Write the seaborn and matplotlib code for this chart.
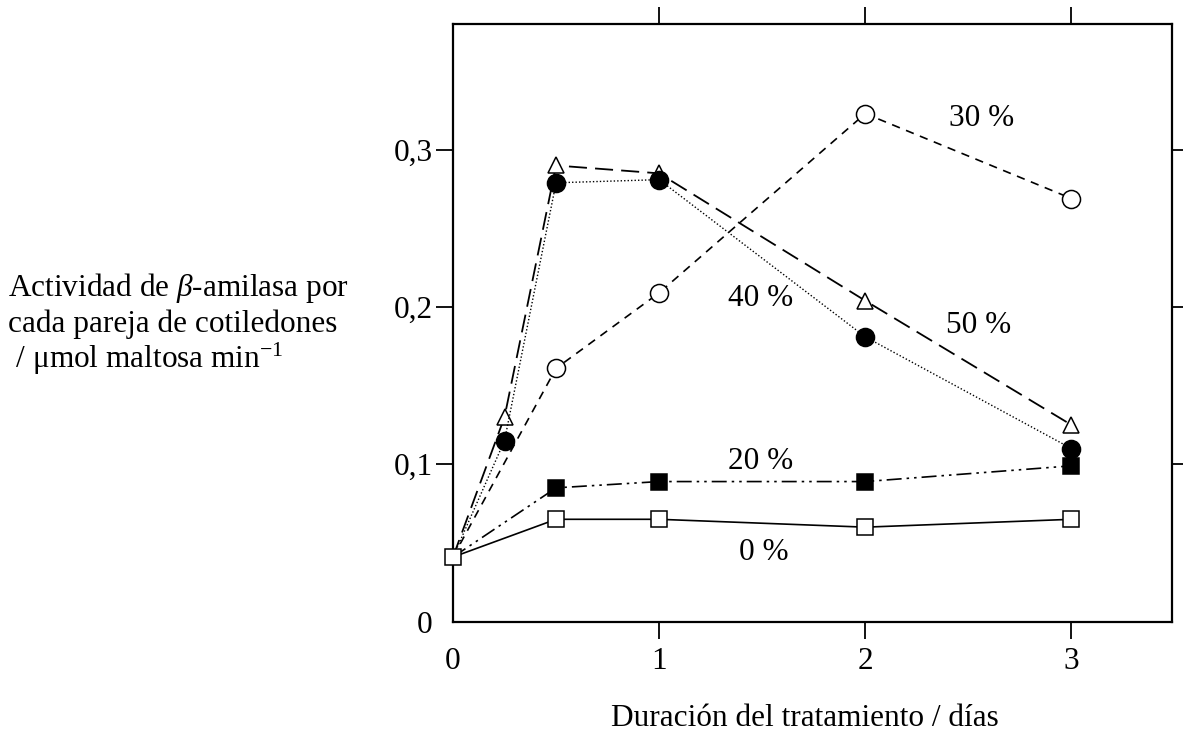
import numpy as np
import pandas as pd
import matplotlib
matplotlib.use("Agg")
import matplotlib.pyplot as plt
import seaborn as sns

# datos
dias_corto = [0, 0.5, 1, 2, 3]
dias_largo = [0, 0.25, 0.5, 1, 2, 3]

act_0 = [0.041, 0.065, 0.065, 0.060, 0.065]
act_20 = [0.041, 0.085, 0.089, 0.089, 0.099]
act_30 = [0.041, 0.161, 0.209, 0.323, 0.269]
act_40 = [0.041, 0.115, 0.279, 0.281, 0.181, 0.110]
act_50 = [0.041, 0.130, 0.290, 0.285, 0.204, 0.125]

etiquetas = ["0 %", "20 %", "30 %", "40 %", "50 %"]
pos_etiquetas = [(1.51, 0.044), (1.49, 0.1015), (2.565, 0.320), (1.49, 0.2055), (2.55, 0.1885)]

xticks = [0, 1, 2, 3]
xtick_labels = ["0", "1", "2", "3"]
yticks = [0, 0.1, 0.2, 0.3]
ytick_labels = ["0", "0,1", "0,2", "0,3"]

sns.set_style("ticks")
plt.rcParams["font.family"] = ["Liberation Serif", "DejaVu Serif"]
plt.rcParams["mathtext.fontset"] = "custom"
plt.rcParams["mathtext.rm"] = "Liberation Serif"
plt.rcParams["mathtext.it"] = "Liberation Serif:italic"
for k in ["text.color", "axes.edgecolor", "xtick.color", "ytick.color", "axes.labelcolor"]:
    plt.rcParams[k] = "black"

fs = 22.5

fig = plt.figure(figsize=(11.83, 7.33), dpi=100)
ax = fig.add_axes([0.3829, 0.1521, 0.6082, 0.8152])

series = [
    (dias_largo, act_50, "^", 12, "white", (0, (10, 4.5)), 1.3),
    (dias_largo, act_40, "o", 13, "black", (0, (1, 1.5)), 1.0),
    (dias_corto, act_30, "o", 13, "white", (0, (5, 4)), 1.2),
    (dias_corto, act_20, "s", 11, "black", (0, (9, 3, 1.5, 3, 1.5, 3)), 1.2),
]
for x, y, mk, ms, fc, ls, lw in series:
    df = pd.DataFrame({"dias": x, "act": y})
    sns.lineplot(data=df, x="dias", y="act", ax=ax, color="black", marker=mk,
                 markersize=ms, markerfacecolor=fc, markeredgecolor="black",
                 markeredgewidth=1.1, linestyle=ls, linewidth=lw,
                 markevery=list(range(1, len(x))), errorbar=None,
                 legend=False, clip_on=False, zorder=3)

# serie control (0 %) encima, con su cuadro en el origen
df0 = pd.DataFrame({"dias": dias_corto, "act": act_0})
sns.lineplot(data=df0, x="dias", y="act", ax=ax, color="black", marker="s",
             markersize=11, markerfacecolor="white", markeredgecolor="black",
             markeredgewidth=1.1, linestyle="-", linewidth=1.2, errorbar=None,
             legend=False, clip_on=False, zorder=5)

for txt, (tx, ty) in zip(etiquetas, pos_etiquetas):
    ax.text(tx, ty, txt, ha="center", va="center", fontsize=fs)

ax.set_xlim(0, 3.49)
ax.set_ylim(0, 0.38)
ax.set_xticks(xticks)
ax.set_xticklabels(xtick_labels)
ax.set_yticks(yticks)
ax.set_yticklabels(ytick_labels)
ax.tick_params(direction="out", length=12.5, width=1.3, labelsize=fs,
               top=True, right=True, labeltop=False, labelright=False)
ax.tick_params(axis="x", pad=6)
ax.tick_params(axis="y", pad=2)
for t in (ax.xaxis.get_major_ticks()[0], ax.yaxis.get_major_ticks()[0]):
    t.tick1line.set_visible(False)
    t.tick2line.set_visible(False)
for s in ax.spines.values():
    s.set_linewidth(1.6)
ax.set_xlabel("")
ax.set_ylabel("")

fig.text(805 / 1183, 1 - 718 / 733, "Duración del tratamiento / días",
         ha="center", va="center", fontsize=fs)
fig.text(8 / 1183, 1 - 296 / 733, "Actividad de $\\beta$-amilasa por",
         ha="left", va="baseline", fontsize=fs)
fig.text(8 / 1183, 1 - 332 / 733, "cada pareja de cotiledones",
         ha="left", va="baseline", fontsize=fs)
fig.text(8 / 1183, 1 - 368 / 733, " / μmol maltosa min$^{-1}$",
         ha="left", va="baseline", fontsize=fs)

fig.savefig("out.png", dpi=100)
